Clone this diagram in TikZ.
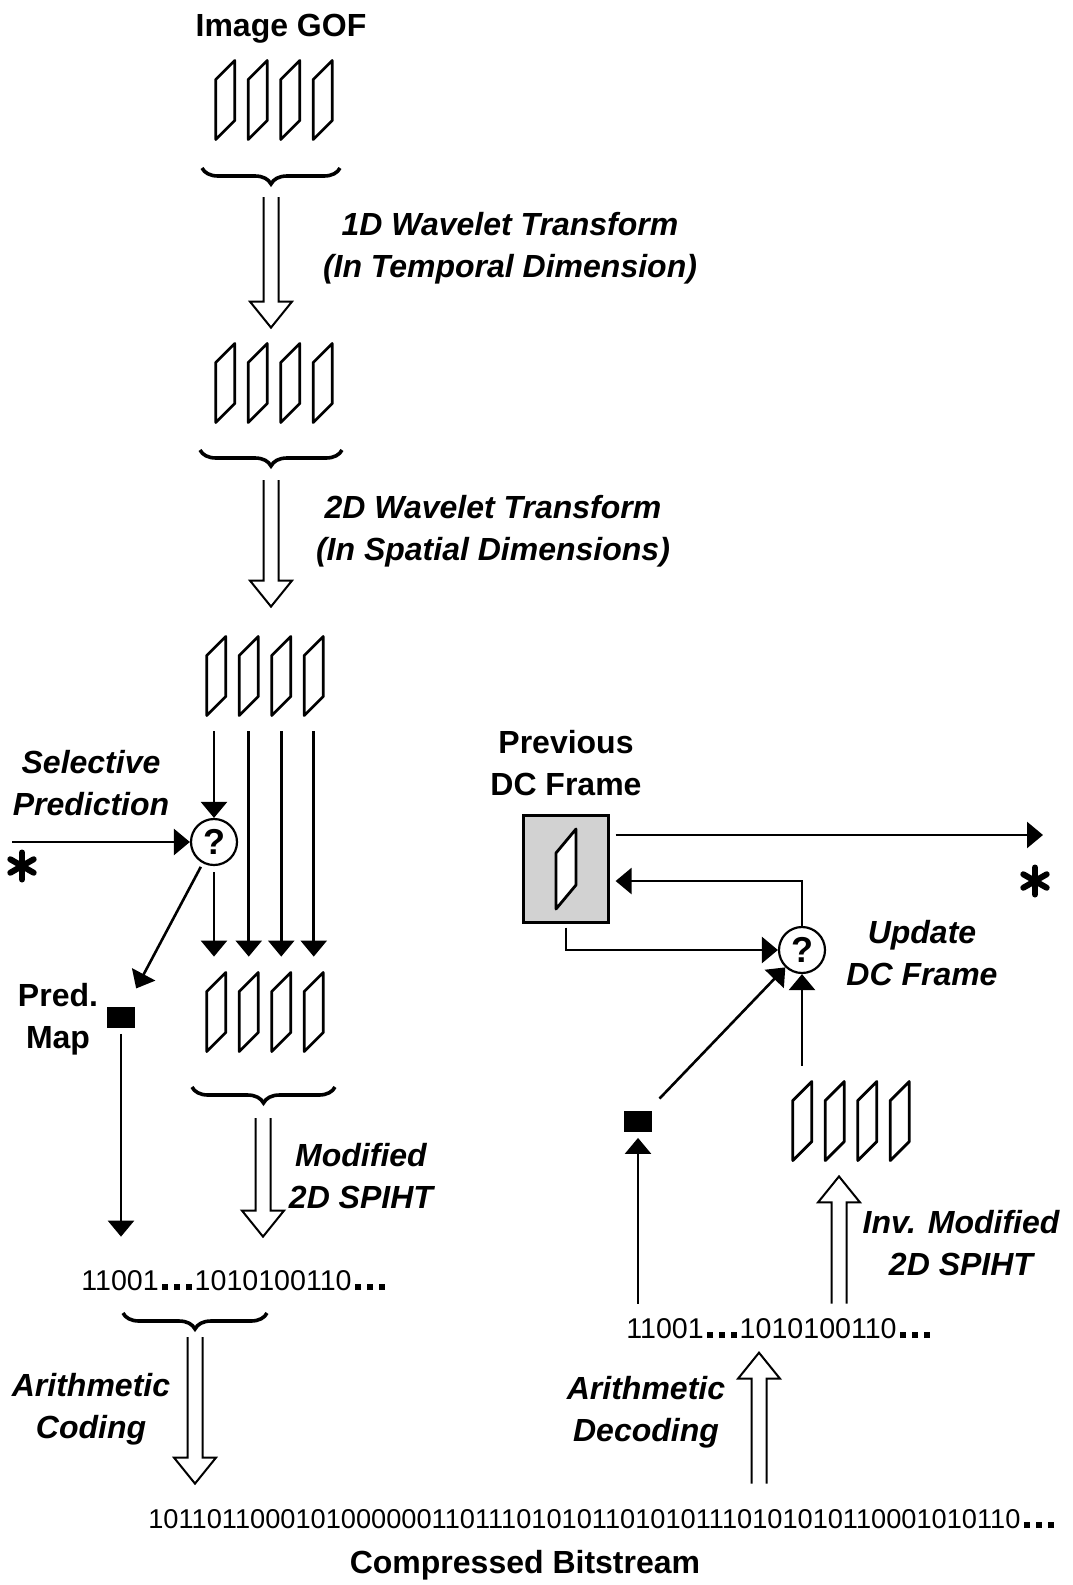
\documentclass[tikz,border=0pt]{standalone}
\usepackage{fontspec}
\setmainfont{Liberation Sans}
\usepackage{tikz}
\usetikzlibrary{arrows.meta,positioning,calc,decorations.pathreplacing}
\definecolor{BoxGray}{HTML}{D2D2D2}
\newcommand{\bdots}{\hspace{1.5pt}\rule{3pt}{3pt}\hspace{3pt}\rule{3pt}{3pt}\hspace{3pt}\rule{3pt}{3pt}\hspace{1.5pt}}

\begin{document}
\begin{tikzpicture}[
x=0.5pt,y=-0.5pt,
lbl/.style={font=\fontsize{16}{21}\selectfont\bfseries,align=center,inner sep=0pt,anchor=north},
itl/.style={lbl,font=\fontsize{16}{21}\selectfont\bfseries\itshape},
bitstr/.style={font=\fontsize{14.3}{16}\selectfont,inner xsep=0pt,anchor=base},
arr/.style={-{Triangle[length=8pt,width=13pt]},line width=1.3pt},
frmline/.style={line width=1.4pt,line join=round},
gof/.style={minimum width=64pt,minimum height=55pt,inner sep=0pt},
gofpic/.pic={\foreach \k in {-1.5,-0.5,0.5,1.5}
    \draw[frmline] ({\k*32.5-9.5},-20.5) -- ({\k*32.5+9.5},-39.5) -- ({\k*32.5+9.5},20.5) -- ({\k*32.5-9.5},39.5) -- cycle;},
astpic/.pic={\foreach \a in {90,30,150}
    \draw[line width=3pt,line cap=round] (\a:-13.5) -- (\a:13.5);},
prevbox/.style={draw,line width=1.1pt,fill=BoxGray,minimum width=42.5pt,minimum height=53.5pt,inner sep=0pt,
  path picture={\draw[frmline,fill=white,shift={(path picture bounding box.center)}]
      (-10,-16) -- (10,-40) -- (10,16) -- (-10,40) -- cycle;}},
qnode/.style={circle,draw,line width=1.1pt,minimum size=23pt,inner sep=0pt,font=\fontsize{18}{18}\selectfont\bfseries},
mapbox/.style={fill=black,minimum width=14pt,minimum height=10.5pt,inner sep=0pt},
brc/.style={decorate,decoration={brace,mirror,amplitude=8pt},line width=1.8pt},
hollowdown/.style={line width=1pt,to path={([xshift=-3.75pt]\tikztostart) -- ([xshift=-3.75pt,yshift=13pt]\tikztotarget) -- ([xshift=-10.5pt,yshift=13pt]\tikztotarget) -- (\tikztotarget) -- ([xshift=10.5pt,yshift=13pt]\tikztotarget) -- ([xshift=3.75pt,yshift=13pt]\tikztotarget) -- ([xshift=3.75pt]\tikztostart)}},
hollowup/.style={line width=1pt,to path={([xshift=-3.75pt]\tikztostart) -- ([xshift=-3.75pt,yshift=-13pt]\tikztotarget) -- ([xshift=-10.5pt,yshift=-13pt]\tikztotarget) -- (\tikztotarget) -- ([xshift=10.5pt,yshift=-13pt]\tikztotarget) -- ([xshift=3.75pt,yshift=-13pt]\tikztotarget) -- ([xshift=3.75pt]\tikztostart)}}
]
\useasboundingbox (0,0) rectangle (1072,1585);

% encoder: wavelet transforms
\node[lbl] (title) at (281,14) {Image GOF};
\node[gof] (g1) at (274,100) {};
\pic at (g1) {gofpic};
\draw[brc] (202,168) -- (340,168);
\coordinate (br1) at (271,197);
\node[gof] (g2) at (274,383) {};
\pic at (g2) {gofpic};
\coordinate (h1e) at (br1 |- g2.north);
\draw[hollowdown] (br1) to (h1e);
\node[itl] (t1) at (510,212) {1D Wavelet Transform\\(In Temporal Dimension)};
\draw[brc] (200,450) -- (342,450);
\coordinate (br2) at (271,480);
\node[gof] (g3) at (265,676) {};
\pic at (g3) {gofpic};
\coordinate (h2e) at ($(br2 |- g3.north)+(0,-14)$);
\draw[hollowdown] (br2) to (h2e);
\node[itl] (t2) at (493,495) {2D Wavelet Transform\\(In Spatial Dimensions)};

% selective prediction
\node[qnode] (q1) at (214,842) {?};
\coordinate (inL) at (12,842);
\draw[arr] (inL) -- (q1);
\coordinate (starL) at (22,866);
\pic at (starL) {astpic};
\node[itl] (sel) at (91,750) {Selective\\Prediction};
\node[gof] (g4) at (265,1012) {};
\pic at (g4) {gofpic};
\draw[arr] (q1 |- g3.south) -- (q1);
\draw[arr,shorten <=3pt] (q1) -- (q1 |- g4.north);
\foreach \k in {-0.5,0.5,1.5}
  \draw[arr] ([xshift=\k*16.25pt]g3.south) -- ([xshift=\k*16.25pt]g4.north);
\node[mapbox] (mapL) at (121,1017) {};
\node[lbl] (pm) at (58,983) {Pred.\\Map};
\draw[arr,shorten <=2pt,shorten >=10pt] (q1) -- (mapL);

% SPIHT and arithmetic coding
\node[bitstr,inner ysep=16.5pt] (bitL) at (233,1290) {11001\bdots1010100110\bdots};
\draw[arr,shorten <=3pt] (mapL) -- (mapL |- bitL.north);
\draw[brc] (192,1087) -- (335,1087);
\coordinate (br4) at (263,1118);
\coordinate (h4e) at (br4 |- bitL.north);
\draw[hollowdown] (br4) to (h4e);
\node[itl] (t4) at (361,1143) {Modified\\2D SPIHT};
\draw[brc] (123,1313) -- (267,1313);
\coordinate (br5) at (195,1337);
\node[bitstr,font=\fontsize{13.6}{16}\selectfont,inner ysep=12.5pt] (bits) at (601,1528)
  {10110110001010000001101110101011010101110101010110001010110\bdots};
\coordinate (h5e) at (br5 |- bits.north);
\draw[hollowdown] (br5) to (h5e);
\node[itl] (t5) at (91,1373) {Arithmetic\\Coding};
\node[lbl] (cb) at (525,1550) {Compressed Bitstream};

% decoder: DC frame update
\node[lbl] (pv) at (566,730) {Previous\\DC Frame};
\node[prevbox] (box) at (566,869) {};
\coordinate (outR) at (1043,835);
\draw[arr,shorten <=3pt] ([yshift=17pt]box.east) -- (outR);
\coordinate (starR) at (1035,881);
\pic at (starR) {astpic};
\node[qnode] (q2) at (802,950) {?};
\node[itl] (t6) at (922,920) {Update\\DC Frame};
\draw[arr,shorten >=3pt] (q2) |- ([yshift=-6pt]box.east);
\draw[arr,shorten <=2pt] (box.south) |- (q2);
\node[gof] (gR) at (851,1121) {};
\pic at (gR) {gofpic};
\node[mapbox] (mapR) at (638,1121) {};
\draw[arr] (q2 |- gR.north) -- (q2);
\draw[arr,shorten <=8pt] (mapR) -- (q2);
\node[bitstr,inner ysep=7pt] (bitR) at (778,1338) {11001\bdots1010100110\bdots};
\draw[arr,shorten >=3pt] (bitR.north -| mapR) -- (mapR);
\path (bitR.north) ++(61,0) coordinate (h6s);
\coordinate (h6e) at (h6s |- gR.south);
\draw[hollowup] (h6s) to (h6e);
\node[itl] (t7) at (961,1210) {Inv. Modified\\2D SPIHT};
\path (bits.north) ++(158,0) coordinate (h7s);
\coordinate (h7e) at (h7s |- bitR.south);
\draw[hollowup] (h7s) to (h7e);
\node[itl] (t8) at (646,1376) {Arithmetic\\Decoding};
\end{tikzpicture}
\end{document}
